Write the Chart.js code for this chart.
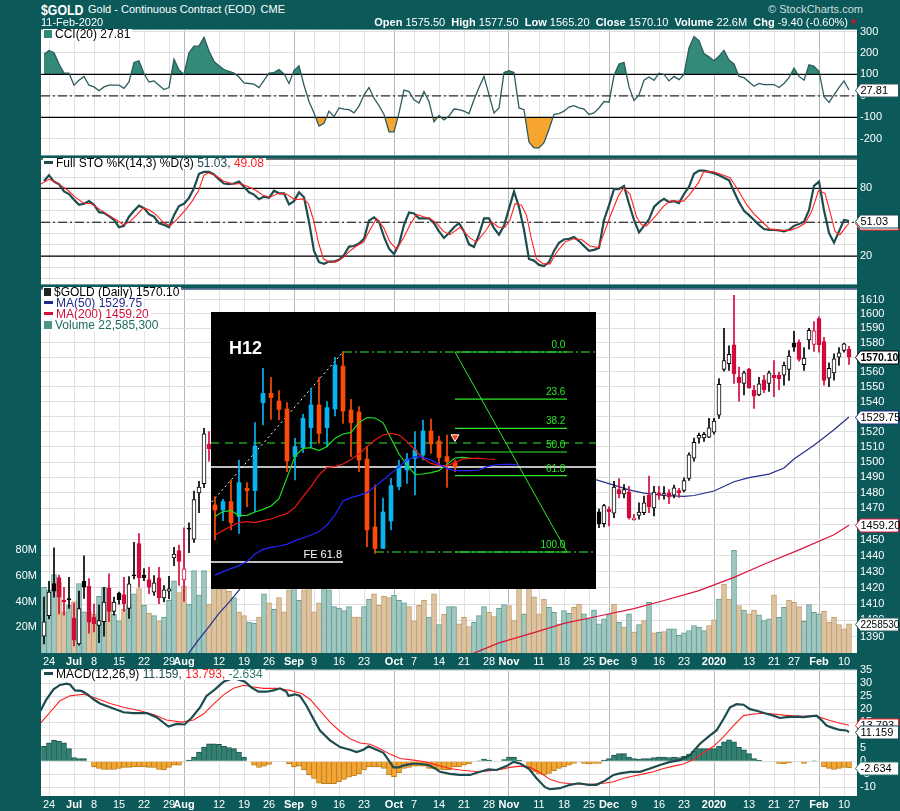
<!DOCTYPE html>
<html>
<head>
<meta charset="utf-8">
<title>$GOLD</title>
<script src="https://cdn.jsdelivr.net/npm/chart.js@4.4.1/dist/chart.umd.min.js"></script>
<style>
  body { margin:0; width:900px; height:811px; background:#0b5959; position:relative; overflow:hidden;
         font-family:"Liberation Sans", Arial, sans-serif; }
  canvas { position:absolute; left:0; }
  .t { position:absolute; white-space:nowrap; color:#fff; font-size:11px; z-index:5; }
  .leg { position:absolute; left:43px; background:#fff; color:#000; font-size:12px; line-height:11px;
         white-space:nowrap; padding:0 2px 0 1px; z-index:5; }
  .dash { display:inline-block; width:9px; height:3px; vertical-align:middle; margin:0 3px 2px 0; }
</style>
</head>
<body>

<div class="t" style="left:41px;top:1px;font-weight:bold;font-size:15px;transform:scaleX(0.82);transform-origin:left">$GOLD</div>
<div class="t" style="left:88px;top:3px">Gold - Continuous Contract (EOD) <span style="margin-left:2px">CME</span></div>
<div class="t" style="left:41px;top:16px">11-Feb-2020</div>
<div class="t" style="left:768px;top:3px;color:#cfdede">&copy; StockCharts.com</div>
<div class="t" style="right:52px;top:16px;font-size:11px">
  <b>Open</b> 1575.50&nbsp; <b>High</b> 1577.50&nbsp; <b>Low</b> 1565.20&nbsp; <b>Close</b> 1570.10&nbsp;
  <b>Volume</b> 22.6M&nbsp; <b>Chg</b> -9.40 (-0.60%)</div>
<div class="t" style="left:849px;top:17px;color:#d01030;font-size:9px">&#9660;</div>

<canvas id="cCci" width="900" height="145" style="top:20px"></canvas>
<canvas id="cSto" width="900" height="145" style="top:149px"></canvas>
<canvas id="cMain" width="900" height="390" style="top:278px"></canvas>
<canvas id="cInset" width="385" height="277" style="left:211px;top:312px"></canvas>
<canvas id="cMacd" width="900" height="151" style="top:660px"></canvas>

<div class="leg" style="top:29px"><span class="dash" style="background:#2f8a78;height:8px;width:8px"></span>CCI(20) 27.81</div>
<div class="leg" style="top:158px"><span class="dash" style="background:#1d4b4e"></span>Full STO %K(14,3) %D(3) <span style="color:#1d4b4e">51.03,</span> <span style="color:#ff2020">49.08</span></div>
<div class="leg" style="top:287px"><span class="dash" style="background:#222;width:7px;height:8px"></span>$GOLD (Daily) 1570.10</div>
<div class="leg" style="top:298px;color:#1f2a8a"><span class="dash" style="background:#1f2a8a"></span>MA(50) 1529.75</div>
<div class="leg" style="top:309px;color:#d0103a"><span class="dash" style="background:#d0103a"></span>MA(200) 1459.20</div>
<div class="leg" style="top:320px;color:#1d6b5e"><span class="dash" style="background:#4f9488;height:8px;width:8px"></span>Volume 22,585,300</div>
<div class="leg" style="top:669px"><span class="dash" style="background:#1d4b4e"></span>MACD(12,26,9) <span style="color:#1d4b4e">11.159,</span> <span style="color:#ff2020">13.793,</span> <span style="color:#2a7a6a">-2.634</span></div>

<script>
// ---- date axis (trading-day index 0 = 21-Jun-2019, 161 = 11-Feb-2020)
const xTickIdx = [1,6,10,15,20,25,28,35,40,45,50,54,59,64,70,74,79,84,89,93,99,104,109,113,118,123,128,134,141,146,150,155,160];
const xTickLbl = ['24','Jul','8','15','22','29','Aug','12','19','26','Sep','9','16','23','Oct','7','14','21','28','Nov','11','18','25','Dec','9','16','23','2020','13','21','27','Feb','10'];
const monthLbl = ['Jul','Aug','Sep','Oct','Nov','Dec','2020','Feb'];
const darkLines = [28,50,70,93,113,134,155];

// ---- price candles, visible stretch A (from day 0) and stretch B (from day 111)
const startA = 0;
const openA  = [1390.5,1403,1422.7,1426.4,1412.3,1413,1401.4,1385.7,1424,1421,1402,1397,1399.2,1420,1405.6,1416.8,1415.8,1407.3,1427.8,1447.7,1427.8,1425.2,1417.4,1426.2,1413.8,1418,1438.6,1443.2,1425,1457,1450.5,1480,1486,1511.7];
const highA  = [1414.3,1424,1445,1428,1420.4,1426.6,1410.5,1418,1440,1425.8,1410,1409.6,1420.4,1428.7,1414.3,1417.4,1426.6,1427,1448.4,1454,1432,1432.8,1427.6,1432.8,1421.5,1427.2,1445.3,1446.8,1457.6,1460.8,1481.1,1487.5,1522.2,1520];
const lowA   = [1385.7,1401,1414.3,1404,1403.2,1407.3,1384.5,1385,1413.5,1392.3,1393,1386.5,1390.5,1399.2,1403.2,1410,1405.6,1401.2,1425.6,1420.4,1424.5,1416.4,1415.4,1410.3,1411.3,1413.4,1433.8,1421.5,1411.7,1442,1448.4,1467.3,1483.3,1500.5];
const closeA = [1399.2,1417.4,1418,1414.3,1411.3,1412.8,1388,1407.3,1420.5,1399,1398,1400,1411.3,1405.6,1411.3,1412.8,1410.3,1422.5,1427.5,1426.2,1426.4,1420.4,1423.1,1414,1418.8,1419.4,1441.1,1436.5,1431.8,1456.8,1475.6,1483.7,1518.5,1508.7];

const startB = 111;
const openB  = [1467.9,1460.3,1469.4,1466.9,1482.2,1479.4,1480.6,1462.7,1465.6,1467.3,1478.5,1470.4,1480,1478.5,1480,1478.5,1481.5,1481.5,1489.3,1502.6,1515.7,1515.9,1516.4,1519.6,1531,1561.8,1565.7,1578.5,1556.6,1552.3,1561.8,1547.7,1544.5,1554.7,1552.3,1557.8,1557.8,1557.8,1561.8,1579.7,1580.3,1565,1582,1578.8,1596.8,1580.8,1555.8,1559.3,1570.1,1574.7,1575.5];
const highB  = [1469.6,1472.6,1471,1487.5,1489.3,1485.4,1484.2,1466.3,1473.6,1477.9,1490.8,1484.2,1484.2,1484,1482.2,1485,1483,1489.7,1506,1515.7,1519,1519.6,1528.8,1528.8,1555.5,1590,1577.8,1613,1563.4,1560.7,1562.5,1551,1556.4,1557.8,1560.7,1567.8,1560,1566.7,1574.7,1587.8,1582,1576.6,1590,1594.6,1598,1583.7,1566.3,1572.4,1576.6,1579.7,1577.5];
const lowB   = [1457.8,1458.2,1458.9,1464.1,1476.8,1476.8,1463.1,1462.5,1463.1,1466,1467.3,1465.2,1475.8,1476,1473,1476.8,1477,1480.6,1488,1500.5,1512.4,1513.5,1516,1518.3,1528.8,1560.5,1561.1,1552.3,1540.3,1544.5,1548.8,1535.5,1544,1546,1546.8,1543.4,1548,1551,1554.3,1574,1567.3,1561.1,1575.5,1574,1573.5,1551,1550,1554.5,1564.5,1573.5,1565.2];
const closeB = [1460.3,1471.9,1467.9,1483.7,1479.4,1482.2,1464.1,1463.9,1467.7,1473.6,1471,1480.5,1478.5,1479.5,1477.2,1483.3,1480,1488,1504.8,1513,1517.5,1518.2,1522.6,1527,1551.7,1567.8,1572,1558.9,1552.8,1559.5,1549.2,1543.6,1552,1548,1559.4,1556,1555.4,1564.5,1570.8,1576.9,1568.6,1569.5,1588.5,1588.2,1578.5,1554.3,1562.5,1569,1573,1579.2,1570.1];

// ---- volume (millions) and up/down colour of each bar ('u' = up, 'd' = down)
const volume = [51,49,61,55,32,37,40,54,32,32,30,44,51,40,30,25,34,37,46,50,37,31,29,25,28,41,56,47,52,38,64,45,64,38,
  55,50,52,48,43,32,29,24,23,28,46,39,34,43,32,49,56,41,49,56,32,39,51,49,36,35,33,36,28,28,36,42,46,37,44,43,45,41,39,36,25,37,41,28,46,22,30,36,36,
  22.6,27.8,20.6,23.9,29.1,36,31.7,28.3,35,37.6,36.8,25.2,55,30.4,60,43.7,30.4,42,35.5,31.7,22.6,32.9,30.9,35.5,38.1,30.4,26.5,33.4,22.6,26.5,29.8,38.1,23.9,20.1,30.4,16.2,22.1,25.2,39.4,15.7,16.2,16.7,18.8,18.8,13.7,15.7,17.5,21.4,20.1,17.5,21.4,25.7,42,53.5,42,
  79.8,36.8,33.4,30.4,33.4,29.6,25.2,26.5,45,27.8,35.5,41.2,39.4,36,24.7,37.6,31.7,30.4,32.4,23.9,27.8,22.1,18.8,22.59];
const volDir = 'uuudduduud' + 'duuduuduud' + 'ududuuuddu' + 'uuud' +
  'ddddudduud' + 'ududdduudd' + 'dduuuuuudd' + 'uudddduuud' + 'dddududuu' +
  'dddu' + 'uuddu' + 'udddu' + 'dddd' + 'uudu' + 'udduuuuu' + 'udu' + 'dudu' + 'dudu' + 'duuuuuuuu' +
  'ddudd' + 'udud' + 'duuu' + 'duud' + 'ddu' + 'uuud';

// ---- moving averages as [day, price]
const ma50Pts  = [[27,1374],[29,1380.4],[31,1388.6],[33,1396.3],[35,1404.3],[37,1411.1],[39,1418.6],[41,1426.5],
  [110,1488.9],[114,1485],[117,1481.9],[120,1479.8],[124,1478.3],[128,1477.7],[130,1478.3],[134,1481.2],[138,1487.2],
  [141,1489.9],[145,1492.1],[148,1496.1],[150,1502],[154,1511],[158,1521.3],[161,1529.75]];
const ma200Pts = [[84,1378.9],[86,1380.2],[91,1386.4],[98,1392.6],[104,1398.2],[111,1402.7],[118,1407.2],[124,1412.2],
  [131,1418.3],[138,1426.5],[144,1434.7],[151,1443.7],[158,1453.2],[161,1459.2]];
const priceTicks = [1390,1400,1410,1420,1430,1440,1450,1460,1470,1480,1490,1500,1510,1520,1530,1540,1550,1560,1570,1580,1590,1600,1610];
const volTicks = [20,40,60,80];

// ---- CCI(20)
const cci = [194,212,201,149,106,106,50,73,91,50, 42,24,42,50,50,50,35,65,156,164, 103,65,70,50,30,39,171,121,100,201,
  232,232,273,209,161,141,123,115,106,88, 61,58,55,39,73,106,109,123,103,58, 118,141,50,-26,-79,-140,-127,-71,-97,-56,
  -61,-64,-79,-48,5,39,-11,-45,-86,-167, -167,-79,27,20,-18,-33,20,-26,-121,-91, -112,-94,-61,-64,-71,-82,-18,39,91,5,
  -79,-56,109,118,109,-56,-64,-215,-242,-242, -218,-155,-86,-82,-71,-52,-45,-56,-61,-86, -79,-56,-26,-29,95,149,156,42,-21,5,
  73,88,73,106,100,70,91,76,100,224, 277,258,197,182,164,185,212,167,149,91, 85,65,45,58,53,53,53,39,58,85,
  130,91,73,145,138,115,-3,-30,5,39, 70,27.81];
const cciTicks = [-200,-100,0,100,200,300];

// ---- Full stochastics
const stoK = [86.6,91.7,86,83.7,77.3,75,69.9,65.5,66.4,68.7, 65.5,58.9,58.3,55.4,52,45.6,46.8,54.9,60.1,64.7,
  62.6,57.2,54.9,49.1,47.7,45.6,56.3,64.4,66.4,71.6, 80.2,92.9,94.6,94.6,92.3,88,84.3,83.7,84.3,86,
  81.4,76.5,74.5,70.4,72.7,71.6,77.9,75.6,75.6,65.8, 68.7,76.5,72.2,50.5,24.6,14.6,13.1,15.1,15.1,16.8,
  20.9,28.4,28.9,31.2,35.3,51.4,54.3,50.5,37,26.6, 21.8,30.4,47.7,58.6,57.8,53.4,53.4,53.4,49.1,41.9,
  36.1,40.5,45.6,49.1,41.9,30.4,28.1,39,53.4,53.4, 44.8,39,46.8,62.1,77.3,63.5,43.3,17.4,16,12.2,
  11.1,14.6,24.6,31.8,34.7,35.3,37,33.3,28.9,24.6, 25.5,27.2,52,65,79.3,79.3,82.2,66.4,52,41,
  46.8,52.6,63.5,67.8,70.7,67.8,68.7,67,75,81.4, 92.9,95.8,95.8,94.6,93.5,91.7,89.4,87.1,77.3,67.8,
  60.1,56.3,52,47.7,44,43.3,43.3,42.8,41.9,43.3, 46.8,48.5,50.5,60.6,82.2,86,60.6,40.5,31.8,41.9, 52,51.03];
const stoDPts = [[-0.7,83.7],[1,88],[2.2,86],[3.5,82.2],[4.9,77.9],[6.2,72.2],[7.9,67],[9.5,66.4],[11.2,61.2],[12.9,56.3],
  [14.5,52],[15.9,47.7],[17.2,50.5],[18.5,56.3],[19.9,62.9],[21.2,60.6],[22.5,56.3],[23.9,49.7],[25.2,46.8],[26.5,52],
  [28.2,60.6],[29.5,67.8],[30.9,77.9],[32,91.7],[32.9,93.8],[34.2,91.7],[35.9,86.6],[37.9,83.7],[39.2,84.3],[40.9,81.4],
  [42.5,77.9],[43.9,73.6],[45.2,72.2],[46.9,75.6],[48.5,75],[50.2,69.9],[51.9,70.7],[52.9,66.4],[53.9,52],[54.9,31.8],
  [55.9,17.4],[57.2,14.6],[58.5,15.1],[59.9,18.9],[61.2,24.6],[62.5,28.9],[63.9,32.4],[65.2,43.3],[66.5,53.4],[67.9,45.6],
  [69.2,32.4],[70.5,26.1],[71.9,36.1],[73.2,47.7],[74.5,56.9],[75.9,54.9],[77.2,53.4],[78.5,49.1],[79.9,41.9],[81.2,39],
  [83.2,45.6],[85.2,36.1],[86.5,32.4],[88.5,43.3],[89.5,50.5],[90.9,45.6],[92.2,45.6],[93.2,52],[94.2,66.4],[95.5,65],
  [96.5,56.3],[97.5,34.7],[98.5,17.4],[99.9,13.1],[101.2,13.1],[102.5,23.2],[104.2,32.4],[105.9,35.3],[107.5,34.7],[109.2,28.9],
  [110.9,27.5],[111.9,39],[113.2,54.9],[114.9,73.6],[115.9,80.2],[117.2,75],[118.5,54.9],[119.5,47.7],[120.5,46.8],[122.2,54.9],
  [123.9,64.1],[125.2,68.7],[126.5,68.7],[127.9,68.7],[129.2,75],[130.9,85.1],[131.9,94.6],[133.9,94.6],[135.5,92.3],[137.2,89.4],
  [138.9,77.9],[140.5,65.8],[141.9,57.8],[143.9,49.1],[145.2,43.9],[147.2,42.8],[149.2,42.8],[150.9,45.6],[152.2,49.1],[153.5,59.2],
  [154.9,77.9],[156.2,75.6],[157.2,59.2],[158.2,41.9],[159.2,39],[160.2,44.8],[161,49.08]];
const stoTicks = [0,10,20,30,40,50,60,70,80,90,100];

// ---- MACD(12,26,9)
const macdPts = [[-0.7,19.4],[0.5,23.8],[1.9,27.6],[3.2,29.3],[4.5,29.8],[5.2,29.5],[6.2,27.2],[7.5,27],[8.7,25.7],[9.9,23.8],
  [11.2,22.2],[13.2,20.7],[15.9,18.8],[17.9,18.5],[20.5,18.5],[22.5,16.9],[24.9,13.3],[26.5,14.3],[28.1,14.1],[29.5,16.6],
  [31.2,20.7],[32.5,25.1],[34.2,27.6],[35.9,30.5],[37.9,32],[40.2,30.5],[41.5,28.3],[42.9,26.7],[44.5,26.7],[45.9,27.2],
  [47.2,28],[48.5,26.7],[48.9,25.1],[50.2,25.7],[51.2,25.1],[52.5,21.3],[53.9,16.2],[55.2,11.8],[57.2,8],[59.2,5.4],
  [61.2,4.4],[62.5,3.5],[63.9,4.4],[64.9,5.7],[66.5,4.4],[67.9,3.2],[68.9,0.4],[69.9,-2.4],[70.9,-2.4],[72.2,-1.5],
  [73.9,-0.9],[75.5,-1.1],[76.9,-1.5],[78.2,-2.8],[79.2,-4.1],[81.2,-4.9],[83.2,-5.3],[85.2,-5.3],[87.2,-4.1],[88.9,-3.2],
  [90.5,-3.4],[92.5,-1.9],[93.9,-0.3],[95.2,-0.9],[96.9,-2.8],[98.5,-6.6],[100.2,-10],[101.2,-10.8],[103.2,-10.4],[105.2,-9.1],
  [106.9,-8.5],[108.9,-9.1],[110.5,-9.1],[112.2,-7.5],[113.9,-5.3],[115.2,-4.7],[117.2,-4.1],[119.2,-4.1],[121.2,-2.8],[123.2,-1.5],
  [125.2,-0.3],[127.2,0.4],[129.2,2.3],[131.2,6.7],[133.2,9.9],[134.5,11.8],[135.9,16.2],[137.2,20.7],[138.5,21.9],[139.9,21.7],
  [141.2,20],[142.5,19.4],[144.2,18.4],[145.9,17.5],[147.2,16.6],[148.5,16.9],[150.5,17.1],[151.9,16.9],[153.2,17.2],[154.5,17.5],
  [155.5,15.8],[156.5,13.7],[157.9,12.7],[159.2,12],[160.5,11.8],[161,11.159]];
const signalPts = [[-0.7,14.6],[1.2,18.8],[3.2,23.2],[5.2,25.1],[7.9,25.7],[10.5,24.2],[13.2,22.2],[15.9,20.7],[19.2,19.4],[21.9,17.9],
  [24.5,15.8],[27.5,15],[29.9,15.8],[31.9,18.1],[33.9,21.9],[35.9,25.5],[37.9,28],[39.9,29.2],[41.9,28.5],[43.9,28],
  [46.5,28],[49.2,27.2],[51.5,26],[53.2,23.8],[55.2,19.4],[57.2,15],[59.2,11.5],[61.2,8.6],[63.2,7],[65.2,6.5],
  [67.2,4.8],[69.2,2.7],[71.2,1],[73.9,0.4],[76.5,-0.3],[78.5,-1.5],[81.2,-2.8],[83.2,-3.4],[85.2,-3.8],[87.2,-4.1],
  [89.2,-3.7],[91.2,-3.2],[93.2,-2.4],[95.2,-1.9],[97.2,-2.4],[99.2,-4.4],[101.2,-7],[103.2,-8.2],[105.2,-8.7],[107.9,-8.9],
  [109.9,-8.9],[111.9,-8.5],[113.9,-7.9],[115.9,-6.6],[117.9,-5.7],[119.9,-4.9],[121.9,-4.1],[123.9,-2.8],[125.9,-1.9],[127.9,-1.1],
  [129.9,0.6],[131.9,3.2],[133.9,5.7],[135.9,9.3],[137.9,13.7],[139.9,17.5],[141.9,18.1],[143.9,18.4],[145.9,18.1],[147.9,17.7],
  [149.9,17.4],[151.9,17.2],[153.9,17.5],[155.2,16.9],[157.2,15.6],[159.2,14.6],[161,13.793]];
const macdHist = [5.7,7,8,7.7,7,4.8,1.4,1,1,0, -2.2,-2.8,-3.2,-3.2,-3.2,-2.8,-2.4,-2.4,-2.2,-2.2,
  -2.2,-2.4,-2.4,-3.2,-3.4,-2.4,-1.5,-1.5,-0.3,0.4, 1.6,3.5,5.4,6.7,6.7,6.5,5.7,5.2,4.8,3.5,
  1.6,0,-1.5,-2.4,-1.9,-1.3,0,0,0,-1.1, -2.2,-1.9,-3.4,-5.3,-6.6,-8.5,-8.7,-8.7,-8.7,-7.9,
  -7,-6.2,-5.7,-4.9,-3.4,-2.2,-2.2,-2.2,-2.8,-5.3, -6,-4.4,-2.8,-2.4,-1.9,-1.9,-1.9,-2.8,-2.8,-3.2,
  -3.4,-3.4,-2.2,-2.2,-1.5,-1.1,0,0.1,0.8,0.4, 0,0,0.6,1.6,1.6,0.4,0,-2.8,-4.1,-4.9,
  -5.3,-4.7,-3.7,-2.8,-2.2,-1.5,-0.9,0,-0.9,-1.1, -0.9,-0.9,0.4,1,2.3,2.9,2.9,1.6,1,0.8,
  1,1,1.4,1.6,1.6,1.4,1.6,1.4,1.9,2.7, 3.9,4.8,4.8,4.8,4.8,5.7,7.4,8.2,7.4,5.4,
  4.4,2.9,1,0.4,0,0,0,-0.9,-1.1,-0.6, 0,0,-0.9,0,0.1,0,-2.2,-2.8,-3.2,-2.8, -2.4,-2.634];
const macdTicks = [-10,-5,0,5,10,15,20,25,30,35];

// ---- H12 inset (bar index, price)
const insOpen  = [1483.5,1481,1485.2,1477.7,1491.8,1490.7,1534.7,1539.3,1535.5,1531.5,1507.7,1512.2,1522.2,1533.5,1522.2,1531.5,1553,1531,1530,1506.5,1472.5,1461.8,1475.5,1492.7,1501,1506.8,1508.5,1520.5,1515.5,1507.7,1504.8];
const insHigh  = [1487.7,1486.3,1496,1506,1494.7,1524.7,1551.8,1547.3,1540.7,1534.7,1516.8,1528.8,1541.8,1547.2,1535.2,1557.3,1560.2,1536.3,1532.7,1512.7,1493.5,1487,1496.8,1506,1509.3,1520.2,1526,1526.5,1518,1518.5,1506];
const insLow   = [1466,1475.7,1471,1469.3,1482.7,1480.2,1523.5,1526.3,1526,1500.2,1496,1509.7,1512.7,1514.3,1512.7,1528,1524.3,1507.7,1500.2,1462.7,1459.3,1461.8,1471,1491,1494.3,1488.5,1506,1509.3,1503.5,1492.3,1500.2];
const insClose = [1481,1485.2,1474.7,1494.7,1490.7,1513,1539.3,1537.2,1531.3,1505.5,1512.7,1526.8,1533.5,1519.3,1532.2,1553.5,1530.5,1524.7,1506,1471,1461.8,1480,1493.2,1503.2,1506.3,1511,1520.5,1514,1507.2,1505.2,1502.7];
const insGreen = [1477.7,1480.2,1480.7,1478.2,1478.3,1480,1481.3,1483,1486.7,1497.2,1508,1511.8,1512.2,1510.7,1512.7,1516.8,1519,1519.8,1524.7,1527.2,1527,1524.7,1516.8,1509,1503.5,1498.8,1499,1499.7,1500.7,1503.8,1507,1507.3,1506.8];
const insRed   = [1468.5,1470.7,1473,1474.7,1475.2,1474.7,1475.7,1476.5,1478,1479.3,1482.3,1487.7,1492.7,1498.5,1502.3,1502.7,1504,1506.3,1509,1512.7,1516,1518.5,1519.3,1518.5,1515.2,1511,1506.8,1504.3,1503.2,1503.2,1504.7,1506.5,1506.8,1506.8,1506.5,1506.3];
const insBlue  = [1448.3,1450.2,1451.7,1453.2,1455.2,1459,1461.3,1462.3,1463,1463.8,1465.7,1467,1468.5,1470.2,1473.5,1478.5,1485.5,1487.2,1488.3,1489.7,1492.7,1496,1499.3,1502.7,1506,1507.7,1507.3,1506,1503.8,1501.8,1500.7,1500.7,1500.7,1501,1502.7,1503.5,1503.8,1503.8,1503.5];
const fibPrices = [1560,1536.4,1521.8,1510,1498.2,1460];
const fibLabels = ['0.0','23.6','38.2','50.0','61.8','100.0'];
const fibFrom = 30, fibTo = 44, swingHighBar = 16, swingLowBar = 20;
const feLevel = 1455, greenDashLevel = 1514.5, whiteLevel = 1502.5;
const riseStart = [-0.4,1485];
const signalBar = [30,1517.5];

// ---------------------------------------------------------------
Chart.defaults.font.family = '"Liberation Sans", Arial, sans-serif';
Chart.defaults.font.size = 11;
Chart.defaults.color = '#ffffff';
Chart.defaults.animation = false;
Chart.defaults.events = [];
Chart.defaults.layout.autoPadding = false;
Chart.defaults.plugins.legend.display = false;
Chart.defaults.plugins.tooltip.enabled = false;

const X_MIN = -0.6, X_MAX = 162.6;
const pts = arr => arr.map(([x, y]) => ({x, y}));
const daily = arr => arr.map((y, x) => ({x, y}));
const hline = (v, x0 = X_MIN, x1 = X_MAX) => [{x: x0, y: v}, {x: x1, y: v}];
const DASHDOT = [9, 3, 2, 3];

function xAxis(showLabels, h) {
  return {
    type: 'linear', min: X_MIN, max: X_MAX, position: 'bottom', offset: false,
    afterBuildTicks: s => { s.ticks = xTickIdx.map(v => ({value: v})); },
    afterFit: s => { s.height = h; s.paddingLeft = 0; s.paddingRight = 0; },
    grid: { offset: false, drawTicks: false, color: c => darkLines.includes(c.tick && c.tick.value) ? '#b6b6b6' : '#e2e2e2' },
    border: { display: false },
    ticks: {
      display: showLabels, autoSkip: false, maxRotation: 0, minRotation: 0, padding: 2,
      callback: v => xTickLbl[xTickIdx.indexOf(v)],
      font: c => ({ size: 11, weight: monthLbl.includes(xTickLbl[xTickIdx.indexOf(c.tick && c.tick.value)]) ? 'bold' : 'normal' })
    }
  };
}

function yAxis(type, min, max, tickVals, shown) {
  return {
    type, min, max, position: 'right',
    afterBuildTicks: s => { s.ticks = tickVals.map(v => ({value: v})); },
    afterFit: s => { s.width = 43; },
    grid: { drawTicks: false, color: '#dfdfdf' },
    border: { display: false },
    ticks: { autoSkip: false, padding: 3, callback: v => (shown ? shown.includes(v) : true) ? String(v) : '' }
  };
}

const panelBg = {
  id: 'panelBg',
  beforeDraw(chart, args, o) {
    const {ctx, chartArea: a} = chart;
    ctx.save();
    ctx.fillStyle = o.color || '#ffffff';
    ctx.fillRect(a.left, a.top, a.right - a.left, a.bottom - a.top);
    ctx.restore();
  },
  afterDraw(chart, args, o) {
    if (!o.topLine) return;
    const {ctx, chartArea: a} = chart;
    ctx.save();
    ctx.fillStyle = o.topLine;
    ctx.fillRect(a.left, a.top, a.right - a.left, 1);
    ctx.restore();
  }
};

const badges = {
  id: 'badges',
  afterDraw(chart, args, o) {
    const ctx = chart.ctx;
    (o.items || []).forEach(b => {
      const y = Math.round(chart.scales[b.axis || 'y'].getPixelForValue(b.value)) + 0.5;
      const x0 = chart.chartArea.right - 1.5, x1 = chart.width - 1.5;
      ctx.save();
      ctx.beginPath();
      ctx.moveTo(x0, y); ctx.lineTo(x0 + 5, y - 6.5); ctx.lineTo(x1, y - 6.5);
      ctx.lineTo(x1, y + 6.5); ctx.lineTo(x0 + 5, y + 6.5); ctx.closePath();
      ctx.fillStyle = '#ffffff'; ctx.fill();
      ctx.strokeStyle = b.color; ctx.lineWidth = 1; ctx.stroke();
      ctx.fillStyle = '#000000';
      ctx.font = (b.bold ? 'bold ' : '') + (b.size || 11) + 'px "Liberation Sans", Arial, sans-serif';
      ctx.textBaseline = 'middle';
      ctx.fillText(b.text, x0 + 5, y + 0.5);
      ctx.restore();
    });
  }
};

function panelOptions(scales, extra) {
  return Object.assign({
    responsive: false,
    layout: { autoPadding: false, padding: { left: 41, top: 8, bottom: 8, right: 0 } },
    scales
  }, extra || {});
}

// ---------------- CCI panel
new Chart(document.getElementById('cCci'), {
  type: 'line',
  data: { datasets: [
    { data: daily(cci), borderWidth: 0, pointRadius: 0, order: 5,
      fill: { target: {value: 100}, above: '#338a79', below: 'rgba(0,0,0,0)' } },
    { data: daily(cci), borderWidth: 0, pointRadius: 0, order: 5,
      fill: { target: {value: -100}, above: 'rgba(0,0,0,0)', below: '#f6a52f' } },
    { data: hline(100), borderColor: '#000', borderWidth: 1.2, pointRadius: 0, order: 3 },
    { data: hline(-100), borderColor: '#000', borderWidth: 1.2, pointRadius: 0, order: 3 },
    { data: hline(0), borderColor: '#000', borderWidth: 1, borderDash: DASHDOT, pointRadius: 0, order: 3 },
    { data: daily(cci), borderColor: '#2c5b5e', borderWidth: 1.3, pointRadius: 0, order: 1 }
  ]},
  options: panelOptions({ x: xAxis(false, 0), y: yAxis('linear', -277, 309, cciTicks) }, {
    plugins: { panelBg: {}, badges: { items: [{ value: 27.81, text: '27.81', color: '#2c5b5e' }] } }
  }),
  plugins: [panelBg, badges]
});

// ---------------- Stochastics panel
new Chart(document.getElementById('cSto'), {
  type: 'line',
  data: { datasets: [
    { data: hline(80), borderColor: '#000', borderWidth: 1.2, pointRadius: 0, order: 3 },
    { data: hline(20), borderColor: '#000', borderWidth: 1.2, pointRadius: 0, order: 3 },
    { data: hline(50), borderColor: '#000', borderWidth: 1, borderDash: DASHDOT, pointRadius: 0, order: 3 },
    { data: daily(stoK), borderColor: '#1d4b4e', borderWidth: 2.2, pointRadius: 0, order: 2 },
    { data: pts(stoDPts), borderColor: '#ff2020', borderWidth: 1.1, pointRadius: 0, order: 1 }
  ]},
  options: panelOptions({ x: xAxis(false, 0), y: yAxis('linear', -5.1, 106.4, stoTicks, [20, 80]) }, {
    plugins: { panelBg: { topLine: '#101820' }, badges: { items: [
      { value: 49.08, text: '', color: '#ff2020' },
      { value: 51.03, text: '51.03', color: '#1d4b4e' } ] } }
  }),
  plugins: [panelBg, badges]
});

// ---------------- price panel
const wickData = [], bodyData = [], bodyFill = [], bodyEdge = [], wickCol = [];
function addCandles(start, o, h, l, c) {
  for (let k = 0; k < o.length; k++) {
    const prev = k > 0 ? c[k - 1] : null;
    const col = prev !== null && c[k] < prev ? '#d10a3c' : '#000000';
    wickData.push({x: start + k, y: [l[k], h[k]]});
    bodyData.push({x: start + k, y: [o[k], c[k]]});
    wickCol.push(col);
    bodyEdge.push(col);
    bodyFill.push(c[k] > o[k] ? '#ffffff' : col);
  }
}
addCandles(startA, openA, highA, lowA, closeA);
addCandles(startB, openB, highB, lowB, closeB);

const volFill = volume.map((v, i) => volDir[i] === 'u' ? '#a0c8c0' : '#dcc4a3');
const volEdge = volume.map((v, i) => volDir[i] === 'u' ? '#5f9c92' : '#c39c6a');

new Chart(document.getElementById('cMain'), {
  type: 'bar',
  data: { datasets: [
    { data: daily(volume), yAxisID: 'yVol', backgroundColor: volFill, borderColor: volEdge,
      borderWidth: 1, barThickness: 5, grouped: false, order: 10 },
    { type: 'line', data: pts(ma200Pts), borderColor: '#dc143c', borderWidth: 1.2, pointRadius: 0, order: 4 },
    { type: 'line', data: pts(ma50Pts), borderColor: '#252f8a', borderWidth: 1.2, pointRadius: 0, order: 4 },
    { data: wickData, backgroundColor: wickCol, barThickness: 1, grouped: false, order: 3 },
    { data: bodyData, backgroundColor: bodyFill, borderColor: bodyEdge, borderWidth: 1, borderSkipped: false,
      barThickness: 4, minBarLength: 1, grouped: false, order: 2 }
  ]},
  options: {
    responsive: false,
    layout: { autoPadding: false, padding: { left: 0, top: 8, bottom: 0, right: 0 } },
    scales: {
      x: xAxis(true, 15),
      y: yAxis('logarithmic', 1380.3, 1617.7, priceTicks),
      yVol: {
        type: 'linear', position: 'left', min: 0, max: 283.2,
        afterBuildTicks: s => { s.ticks = volTicks.map(v => ({value: v})); },
        afterFit: s => { s.width = 41; },
        grid: { display: false, drawTicks: false }, border: { display: false },
        ticks: { autoSkip: false, padding: 4, callback: v => v + 'M' }
      }
    },
    plugins: {
      panelBg: { topLine: '#1a2a6a' },
      badges: { items: [
        { value: 1570.10, text: '1570.10', color: '#000', bold: true, size: 10.5 },
        { value: 1529.75, text: '1529.75', color: '#252f8a' },
        { value: 1459.20, text: '1459.20', color: '#dc143c' },
        { value: 22.5853, axis: 'yVol', text: '22585300', color: '#2c5b5e', size: 10 } ] }
    }
  },
  plugins: [panelBg, badges]
});

// ---------------- H12 inset
const insIdx = insOpen.map((v, i) => i);
const insCol = insIdx.map(i => insClose[i] > insOpen[i] ? '#0ab4f0' : '#ff4b0a');
const insetText = {
  id: 'insetText',
  afterDatasetsDraw(chart) {
    const {ctx, scales: {x, y}} = chart;
    ctx.save();
    ctx.fillStyle = '#ffffff';
    ctx.font = 'bold 18px "Liberation Sans", Arial, sans-serif';
    ctx.fillText('H12', 18, 42);
    ctx.font = '11px "Liberation Sans", Arial, sans-serif';
    ctx.textAlign = 'right';
    ctx.fillText('FE 61.8', x.getPixelForValue(swingHighBar) - 1, y.getPixelForValue(feLevel) - 4);
    ctx.fillStyle = '#2ee82e';
    ctx.font = '10px "Liberation Sans", Arial, sans-serif';
    fibPrices.forEach((p, k) => ctx.fillText(fibLabels[k], x.getPixelForValue(fibTo - 0.2), y.getPixelForValue(p) - 4));
    ctx.restore();
  }
};
const G = '#2ee82e';
new Chart(document.getElementById('cInset'), {
  type: 'bar',
  data: { datasets: [
    { type: 'line', data: hline(greenDashLevel, -0.5, 47.7), borderColor: G, borderWidth: 1, borderDash: [8, 6], pointRadius: 0, order: 6 },
    { type: 'line', data: hline(whiteLevel, -0.5, 47.7), borderColor: '#ffffff', borderWidth: 1.5, pointRadius: 0, order: 6 },
    { type: 'line', data: hline(feLevel, -0.5, swingHighBar), borderColor: '#ffffff', borderWidth: 1.5, pointRadius: 0, order: 6 },
    { type: 'line', data: hline(fibPrices[0], swingHighBar, 47.7), borderColor: G, borderWidth: 1, borderDash: DASHDOT, pointRadius: 0, order: 6 },
    { type: 'line', data: hline(fibPrices[5], swingLowBar, 47.7), borderColor: G, borderWidth: 1, borderDash: DASHDOT, pointRadius: 0, order: 6 },
    ...fibPrices.map(p => ({ type: 'line', data: hline(p, fibFrom, fibTo), borderColor: G, borderWidth: 1.2, pointRadius: 0, order: 6 })),
    { type: 'line', data: [{x: fibFrom, y: fibPrices[0]}, {x: fibTo, y: fibPrices[5]}], borderColor: G, borderWidth: 1, pointRadius: 0, order: 6 },
    { type: 'line', data: [{x: riseStart[0], y: riseStart[1]}, {x: swingHighBar, y: fibPrices[0]}], borderColor: '#ffffff', borderWidth: 1, borderDash: [2, 3], pointRadius: 0, order: 6 },
    { data: insIdx.map(i => ({x: i, y: [insLow[i], insHigh[i]]})), backgroundColor: insCol, barThickness: 1, grouped: false, order: 5 },
    { data: insIdx.map(i => ({x: i, y: [insOpen[i], insClose[i]]})), backgroundColor: insCol, barThickness: 4, minBarLength: 1, grouped: false, order: 4 },
    { type: 'line', data: daily(insBlue), borderColor: '#2424ff', borderWidth: 1.2, pointRadius: 0, order: 3 },
    { type: 'line', data: daily(insRed), borderColor: '#f01818', borderWidth: 1.2, pointRadius: 0, order: 3 },
    { type: 'line', data: daily(insGreen), borderColor: '#22dd22', borderWidth: 1.2, pointRadius: 0, order: 3 },
    { type: 'line', data: [{x: signalBar[0], y: signalBar[1]}], showLine: false, pointStyle: 'triangle', rotation: 180,
      pointRadius: 4.5, backgroundColor: '#ff3a10', borderColor: '#ffffff', borderWidth: 1, order: 1 }
  ]},
  options: {
    responsive: false,
    layout: { autoPadding: false, padding: 0 },
    scales: {
      x: { type: 'linear', min: -0.5, max: 47.625, display: false, offset: false },
      y: { type: 'linear', min: 1441.5, max: 1580, display: false }
    },
    plugins: { panelBg: { color: '#000000' } }
  },
  plugins: [panelBg, insetText]
});

// ---------------- MACD panel
new Chart(document.getElementById('cMacd'), {
  type: 'bar',
  data: { datasets: [
    { data: daily(macdHist), backgroundColor: macdHist.map(v => v >= 0 ? '#2f8373' : '#f6a630'),
      borderColor: macdHist.map(v => v >= 0 ? '#1b5449' : '#b97a18'), borderWidth: 1,
      barThickness: 5, grouped: false, order: 5 },
    { type: 'line', data: pts(signalPts), borderColor: '#ff2020', borderWidth: 1.1, pointRadius: 0, order: 2 },
    { type: 'line', data: pts(macdPts), borderColor: '#1d4b4e', borderWidth: 2.2, pointRadius: 0, order: 1 }
  ]},
  options: panelOptions({ x: xAxis(true, 15), y: yAxis('linear', -13.4, 35.2, macdTicks) }, {
    layout: { autoPadding: false, padding: { left: 41, top: 8, bottom: 0, right: 0 } },
    plugins: { panelBg: {}, badges: { items: [
      { value: 13.793, text: '13.793', color: '#ff2020' },
      { value: 11.159, text: '11.159', color: '#1d4b4e' },
      { value: -2.634, text: '-2.634', color: '#2a7a6a' } ] } }
  }),
  plugins: [panelBg, badges]
});
</script>
</body>
</html>
